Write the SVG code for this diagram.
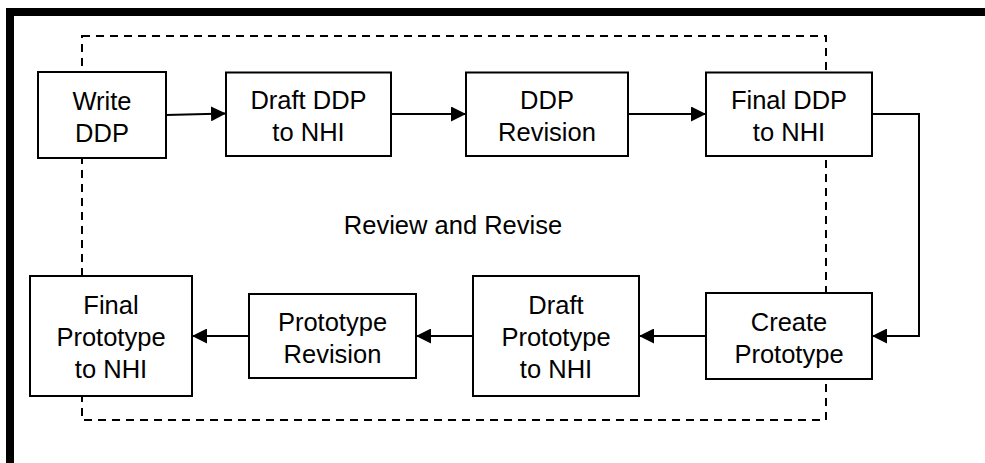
<svg xmlns="http://www.w3.org/2000/svg" width="985" height="463" viewBox="0 0 985 463">
<style>
.box{fill:#fff;stroke:#000;stroke-width:2}
.t{font-family:"Liberation Sans",Arial,sans-serif;font-size:25.5px;fill:#000;text-anchor:middle}
.c{fill:none;stroke:#000;stroke-width:2}
</style>
<defs>
<marker id="ah" markerUnits="userSpaceOnUse" markerWidth="15" markerHeight="15" refX="15" refY="7.5" orient="auto">
<path d="M0,0 L15,7.5 L0,15 z" fill="#000"/>
</marker>
</defs>
<rect width="985" height="463" fill="#fff"/>
<rect x="10" y="12" width="1000" height="500" fill="none" stroke="#000" stroke-width="8"/>
<rect id="review-loop" x="82" y="36" width="744" height="384" fill="none" stroke="#000" stroke-width="2" stroke-dasharray="8 6"/>
<text class="t" x="453" y="234">Review and Revise</text>
<g id="connectors">
<line class="c" x1="166" y1="115" x2="226" y2="113.5" marker-end="url(#ah)"/>
<line class="c" x1="391" y1="114" x2="466" y2="114" marker-end="url(#ah)"/>
<line class="c" x1="628" y1="114" x2="706" y2="114" marker-end="url(#ah)"/>
<path class="c" d="M872,114 H919 V336 H872" marker-end="url(#ah)"/>
<line class="c" x1="706" y1="336" x2="639" y2="336" marker-end="url(#ah)"/>
<line class="c" x1="473" y1="336" x2="416" y2="336" marker-end="url(#ah)"/>
<line class="c" x1="249" y1="336" x2="192" y2="336" marker-end="url(#ah)"/>
</g>
<g id="write-ddp">
<rect class="box" x="38" y="72" width="128" height="86"/>
<text class="t" x="102" y="110">Write</text>
<text class="t" x="102" y="142">DDP</text>
</g>
<g id="draft-ddp">
<rect class="box" x="226" y="72.5" width="165" height="83.5"/>
<text class="t" x="308.5" y="109">Draft DDP</text>
<text class="t" x="308.5" y="141">to NHI</text>
</g>
<g id="ddp-revision">
<rect class="box" x="466" y="72.5" width="162" height="83.5"/>
<text class="t" x="547" y="109">DDP</text>
<text class="t" x="547" y="141">Revision</text>
</g>
<g id="final-ddp">
<rect class="box" x="706" y="72.5" width="166" height="83.5"/>
<text class="t" x="789" y="109">Final DDP</text>
<text class="t" x="789" y="141">to NHI</text>
</g>
<g id="create-prototype">
<rect class="box" x="706" y="293" width="166" height="86"/>
<text class="t" x="789" y="331">Create</text>
<text class="t" x="789" y="363">Prototype</text>
</g>
<g id="draft-prototype">
<rect class="box" x="473" y="276" width="166" height="120"/>
<text class="t" x="556" y="314">Draft</text>
<text class="t" x="556" y="346">Prototype</text>
<text class="t" x="556" y="378">to NHI</text>
</g>
<g id="prototype-revision">
<rect class="box" x="249" y="294" width="167" height="84"/>
<text class="t" x="332.5" y="331">Prototype</text>
<text class="t" x="332.5" y="363">Revision</text>
</g>
<g id="final-prototype">
<rect class="box" x="30" y="276" width="162" height="120"/>
<text class="t" x="111" y="314">Final</text>
<text class="t" x="111" y="346">Prototype</text>
<text class="t" x="111" y="378">to NHI</text>
</g>
</svg>
